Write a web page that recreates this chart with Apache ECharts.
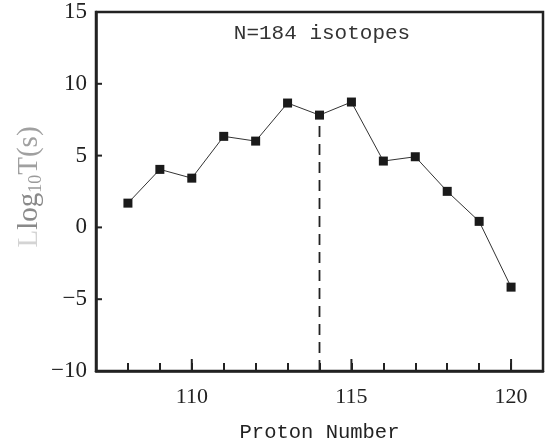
<!DOCTYPE html>
<html>
<head>
<meta charset="utf-8">
<script src="https://cdn.jsdelivr.net/npm/echarts@6/dist/echarts.min.js"></script>
<style>
  html, body { margin: 0; padding: 0; background: #fff; }
  #chart { width: 553px; height: 448px; }
</style>
</head>
<body>
<div id="chart"></div>
<script>
// Half-lives of N=184 isotopes versus proton number
const protonNumbers = [108, 109, 110, 111, 112, 113, 114, 115, 116, 117, 118, 119, 120];
const logHalfLives = [1.69, 4.04, 3.43, 6.34, 6.01, 8.66, 7.82, 8.73, 4.62, 4.92, 2.51, 0.42, -4.16];

// Axis ticks and labels
const xMajorTicks = [110, 115, 120];
const yTicks = [-5, 0, 5, 10];

// Dashed guide from the bottom of the frame up to Z = 114
const guideZ = 114;
const guideTop = logHalfLives[protonNumbers.indexOf(guideZ)];

const X_MIN = 107, X_MAX = 121, Y_MIN = -10, Y_MAX = 15;

const ink = '#222';
const serif = '"Liberation Serif", "Times New Roman", serif';
const mono = '"Liberation Mono", "Courier New", monospace';

// Inward tick marks placed through the axis scales
function tickSeries(values, dir, len) {
  return {
    type: 'custom',
    data: values.map(v => [v]),
    silent: true,
    z: 4,
    renderItem: (params, api) => {
      const v = api.value(0);
      const p = dir === 'x' ? api.coord([v, Y_MIN]) : api.coord([X_MIN, v]);
      const end = dir === 'x' ? [p[0], p[1] - len] : [p[0] + len, p[1]];
      return {
        type: 'line',
        shape: { x1: p[0], y1: p[1], x2: end[0], y2: end[1] },
        style: { stroke: ink, lineWidth: 2 }
      };
    }
  };
}

const chart = echarts.init(document.getElementById('chart'), null, { renderer: 'canvas' });

chart.setOption({
  animation: false,
  backgroundColor: '#fff',
  grid: {
    left: 96, right: 10, top: 12, bottom: 77,
    show: true, borderColor: ink, borderWidth: 2.5, backgroundColor: 'transparent'
  },
  xAxis: {
    type: 'value', min: X_MIN, max: X_MAX, interval: 1,
    axisLine: { show: true, onZero: false, lineStyle: { color: ink, width: 2.5 } },
    axisTick: { show: true, inside: true, length: 8, lineStyle: { color: ink, width: 2 } },
    axisLabel: {
      show: true, margin: 15, fontFamily: serif, fontSize: 22, color: ink,
      formatter: v => (xMajorTicks.indexOf(v) >= 0 ? String(v) : '')
    },
    splitLine: { show: false },
    name: 'Proton Number', nameLocation: 'middle', nameGap: 51,
    nameTextStyle: { fontFamily: mono, fontSize: 20.5, color: ink }
  },
  yAxis: {
    type: 'value', min: Y_MIN, max: Y_MAX, interval: 5,
    axisLine: { show: true, onZero: false, lineStyle: { color: ink, width: 2.5 } },
    axisTick: { show: false },
    axisLabel: {
      show: true, margin: 9, fontFamily: serif, fontSize: 23, color: ink,
      formatter: v => String(v).replace('-', '\u2212')
    },
    splitLine: { show: false }
  },
  series: [
    {
      type: 'line',
      data: [[guideZ, Y_MIN], [guideZ, guideTop]],
      symbol: 'none',
      lineStyle: { color: ink, width: 1.8, type: [11, 7] },
      z: 1
    },
    {
      type: 'line',
      data: protonNumbers.map((z, i) => [z, logHalfLives[i]]),
      symbol: 'rect', symbolSize: 9,
      itemStyle: { color: '#1a1a1a' },
      lineStyle: { color: '#333', width: 1 },
      z: 3
    },
    tickSeries(xMajorTicks, 'x', 12),
    tickSeries(yTicks, 'y', 6)
  ],
  graphic: [
    {
      type: 'text', x: 322, y: 33,
      style: {
        text: 'N=184 isotopes', fontFamily: mono, fontSize: 21, fill: '#333',
        textAlign: 'center', textVerticalAlign: 'middle'
      }
    },
    {
      type: 'text', x: 29, y: 187, rotation: Math.PI / 2,
      style: {
        text: '{a|L}{b|log}{c|10}{d|T(s)}',
        textAlign: 'center', textVerticalAlign: 'middle',
        rich: {
          a: { fontFamily: serif, fontSize: 29, fill: '#d4d4d4' },
          b: { fontFamily: serif, fontSize: 29, fill: '#8a8a8a' },
          c: { fontFamily: serif, fontSize: 18, fill: '#9a9a9a', verticalAlign: 'bottom', padding: [14, 0, 0, 0] },
          d: { fontFamily: serif, fontSize: 29, fill: '#a0a0a0' }
        }
      }
    }
  ]
});
</script>
</body>
</html>
